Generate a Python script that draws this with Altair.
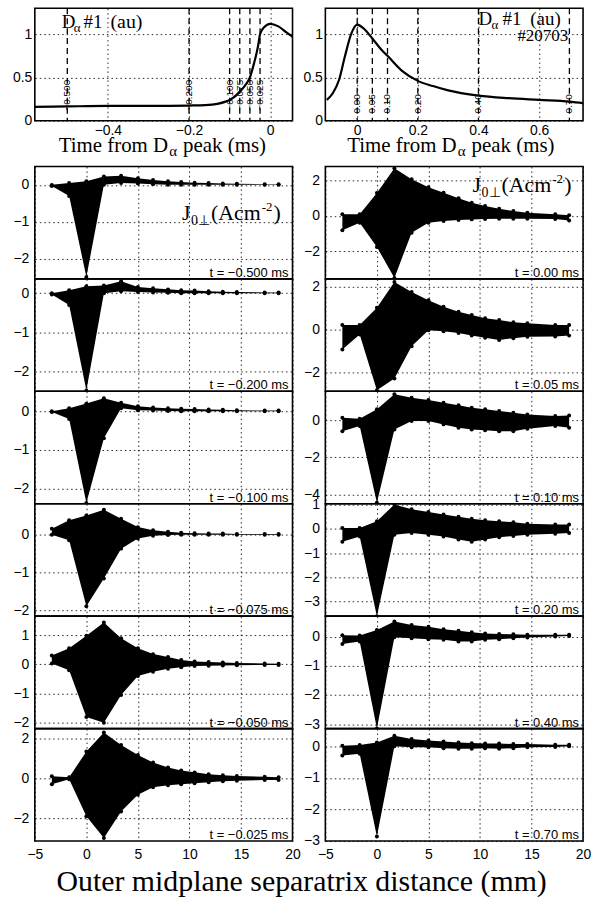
import altair as alt
import pandas as pd

SANS = "Liberation Sans"
SERIF = "Liberation Serif"

# ---------------- D-alpha traces (top row) ----------------
tl_time = [-0.58, -0.5, -0.4, -0.3, -0.2, -0.16, -0.13, -0.11, -0.1, -0.09, -0.08, -0.07,
           -0.06, -0.05, -0.04, -0.03, -0.025, -0.015, 0.0, 0.02, 0.04, 0.055]
tl_da = [0.16, 0.165, 0.17, 0.17, 0.175, 0.18, 0.195, 0.22, 0.24, 0.27, 0.31, 0.36,
         0.42, 0.5, 0.66, 0.86, 1.0, 1.08, 1.12, 1.09, 1.02, 0.97]

tr_time = [-0.1, -0.08, -0.06, -0.04, -0.02, 0.0, 0.02, 0.05, 0.08, 0.1, 0.15, 0.2,
           0.25, 0.3, 0.4, 0.5, 0.6, 0.7, 0.75]
tr_da = [0.24, 0.32, 0.47, 0.75, 1.0, 1.11, 1.07, 0.95, 0.82, 0.75, 0.57, 0.46,
         0.40, 0.35, 0.29, 0.26, 0.24, 0.22, 0.2]

# profile times (ms from D-alpha peak)
before_t = [-0.5, -0.2, -0.1, -0.075, -0.05, -0.025]
before_lab = ["\u22120.500", "\u22120.200", "\u22120.100", "\u22120.075", "\u22120.050", "\u22120.025"]
after_t = [0.0, 0.05, 0.1, 0.2, 0.4, 0.7]
after_lab = ["0.00", "0.05", "0.10", "0.20", "0.40", "0.70"]

# ---------------- J0perp envelopes (bottom panels) ----------------
probe_x = [-3.35, -1.67, 0.0, 1.7, 3.37, 5.0, 6.47, 7.92, 9.2, 10.5, 11.86, 13.24, 14.6, 17.3, 18.65]

up_m500 = [0.0, 0.05, 0.1, 0.23, 0.25, 0.18, 0.13, 0.1, 0.08, 0.06, 0.05, 0.04, 0.03, 0.02, 0.02]
lo_m500 = [-0.03, -0.3, -2.5, 0.0, 0.05, 0.04, 0.02, 0.0, 0.0, 0.0, 0.0, 0.0, 0.0, 0.0, 0.0]

up_m200 = [0.0, 0.08, 0.18, 0.2, 0.31, 0.16, 0.13, 0.1, 0.08, 0.07, 0.05, 0.04, 0.03, 0.02, 0.02]
lo_m200 = [-0.03, -0.3, -2.5, 0.0, 0.05, 0.03, 0.02, 0.01, 0.0, 0.0, 0.0, 0.0, 0.0, 0.0, 0.0]

up_m100 = [0.0, 0.08, 0.2, 0.34, 0.22, 0.13, 0.1, 0.08, 0.07, 0.06, 0.05, 0.04, 0.03, 0.02, 0.02]
lo_m100 = [-0.02, -0.2, -2.38, -0.7, 0.08, 0.03, 0.02, 0.01, 0.0, 0.0, 0.0, 0.0, 0.0, 0.0, 0.0]

up_m075 = [0.16, 0.38, 0.51, 0.66, 0.42, 0.2, 0.12, 0.08, 0.05, 0.04, 0.03, 0.03, 0.02, 0.02, 0.02]
lo_m075 = [0.0, -0.15, -1.9, -1.16, -0.37, -0.1, -0.03, -0.01, 0.0, 0.0, 0.0, 0.0, 0.0, 0.0, 0.0]

up_m050 = [0.3, 0.55, 0.98, 1.43, 0.89, 0.55, 0.35, 0.25, 0.15, 0.1, 0.08, 0.06, 0.05, 0.03, 0.02]
lo_m050 = [0.03, -0.2, -1.8, -2.0, -1.05, -0.4, -0.25, -0.15, -0.1, -0.06, -0.05, -0.04, -0.03, -0.02, -0.02]

up_m025 = [0.1, 0.05, 1.35, 2.3, 1.67, 1.17, 0.8, 0.55, 0.4, 0.3, 0.2, 0.15, 0.12, 0.08, 0.05]
lo_m025 = [-0.3, -0.05, -1.9, -3.0, -1.67, -0.83, -0.45, -0.35, -0.3, -0.25, -0.2, -0.15, -0.12, -0.08, -0.08]

up_p000 = [0.1, 0.1, 1.3, 2.7, 2.07, 1.63, 1.31, 1.0, 0.75, 0.56, 0.41, 0.28, 0.19, 0.1, 0.05]
lo_p000 = [-0.8, -0.38, -1.75, -3.5, -0.94, -0.38, -0.28, -0.22, -0.19, -0.17, -0.15, -0.15, -0.15, -0.17, -0.25]

up_p005 = [0.2, 0.2, 1.0, 2.2, 1.74, 1.35, 1.05, 0.82, 0.66, 0.51, 0.43, 0.32, 0.28, 0.2, 0.2]
lo_p005 = [-0.95, -0.25, -2.85, -2.3, -0.8, -0.05, -0.1, -0.18, -0.3, -0.4, -0.5, -0.42, -0.35, -0.34, -0.3]

up_p010 = [0.13, 0.07, 0.58, 1.39, 1.2, 1.08, 0.94, 0.8, 0.67, 0.58, 0.49, 0.4, 0.3, 0.22, 0.25]
lo_p010 = [-0.6, -0.32, -4.45, -0.5, -0.05, -0.05, -0.23, -0.41, -0.5, -0.54, -0.6, -0.6, -0.47, -0.32, -0.41]

up_p020 = [0.03, 0.03, 0.31, 1.0, 0.8, 0.69, 0.59, 0.49, 0.41, 0.35, 0.31, 0.27, 0.21, 0.17, 0.17]
lo_p020 = [-0.54, -0.32, -3.6, -0.25, -0.18, -0.25, -0.32, -0.44, -0.54, -0.44, -0.35, -0.3, -0.25, -0.21, -0.18]

up_p040 = [0.05, 0.04, 0.23, 0.52, 0.4, 0.34, 0.25, 0.2, 0.15, 0.11, 0.09, 0.08, 0.06, 0.06, 0.06]
lo_p040 = [-0.25, -0.17, -3.15, -0.02, -0.06, -0.09, -0.11, -0.17, -0.17, -0.11, -0.09, -0.06, -0.03, 0.0, 0.02]

up_p070 = [0.02, 0.04, 0.12, 0.33, 0.23, 0.18, 0.15, 0.12, 0.1, 0.09, 0.09, 0.07, 0.07, 0.05, 0.05]
lo_p070 = [-0.29, -0.24, -2.86, 0.0, -0.03, -0.03, -0.06, -0.08, -0.08, -0.06, -0.08, -0.06, -0.03, -0.02, 0.0]

left_panels = [
    (up_m500, lo_m500, [-2.55, 0.5], [-2, -1, 0], "t = \u22120.500 ms"),
    (up_m200, lo_m200, [-2.52, 0.37], [-2, -1, 0], "t = \u22120.200 ms"),
    (up_m100, lo_m100, [-2.4, 0.52], [-2, -1, 0], "t = \u22120.100 ms"),
    (up_m075, lo_m075, [-2.16, 0.82], [-2, -1, 0], "t = \u22120.075 ms"),
    (up_m050, lo_m050, [-2.2, 1.65], [-2, -1, 0, 1], "t = \u22120.050 ms"),
    (up_m025, lo_m025, [-3.15, 2.5], [-2, 0, 2], "t = \u22120.025 ms"),
]
right_panels = [
    (up_p000, lo_p000, [-3.55, 2.8], [-2, 0, 2], "t = 0.00 ms"),
    (up_p005, lo_p005, [-2.9, 2.35], [-2, 0, 2], "t = 0.05 ms"),
    (up_p010, lo_p010, [-4.5, 1.55], [-4, -2, 0], "t = 0.10 ms"),
    (up_p020, lo_p020, [-3.6, 1.03], [-3, -2, -1, 0, 1], "t = 0.20 ms"),
    (up_p040, lo_p040, [-3.15, 0.7], [-3, -2, -1, 0], "t = 0.40 ms"),
    (up_p070, lo_p070, [-3.0, 0.56], [-3, -2, -1, 0], "t = 0.70 ms"),
]

W = 259
H = 113
XTICKS = [-5, 0, 5, 10, 15, 20]


def txt(s, x, y, size, font=SERIF, align="left"):
    return alt.Chart(pd.DataFrame({"s": [s]})).mark_text(
        align=align, baseline="alphabetic", font=font, fontSize=size, color="black"
    ).encode(x=alt.value(x), y=alt.value(y), text="s:N")


def j_label(y0):
    # J_{0\perp}(Acm^{-2})
    return [
        txt("J", 148, y0, 22),
        txt("0\u22a5", 157, y0 + 5, 14),
        txt("(Acm", 177, y0, 22),
        txt("-2", 228, y0 - 9, 13),
        txt(")", 240, y0, 22),
    ]


def profile_panel(up, lo, ydom, yticks, tlabel, bottom, jy=None):
    df = pd.DataFrame({"x": probe_x, "up": up, "lo": lo})
    xs = alt.Scale(domain=[-5, 20], nice=False, zero=False)
    ys = alt.Scale(domain=ydom, nice=False, zero=False)
    xa = alt.Axis(values=XTICKS, labels=bottom, format="~g", title=None, grid=True,
                  labelFlush=False, labelPadding=7)
    ya = alt.Axis(values=yticks, format="~g", title=None, grid=True, labelPadding=6,
                  labelFlush=False)
    base = alt.Chart(df)
    area = base.mark_area(color="black", clip=True, interpolate="linear").encode(
        x=alt.X("x:Q", scale=xs, axis=xa),
        y=alt.Y("up:Q", scale=ys, axis=ya),
        y2="lo:Q",
    )
    dots_up = base.mark_circle(size=16, color="black", opacity=1, clip=True).encode(
        x=alt.X("x:Q", scale=xs, axis=xa), y=alt.Y("up:Q", scale=ys, axis=ya)
    )
    dots_lo = base.mark_circle(size=16, color="black", opacity=1, clip=True).encode(
        x=alt.X("x:Q", scale=xs, axis=xa), y=alt.Y("lo:Q", scale=ys, axis=ya)
    )
    layers = [area, dots_up, dots_lo, txt(tlabel, W - 4, H - 2, 13, font=SANS, align="right")]
    if jy is not None:
        layers += j_label(jy)
    return alt.layer(*layers).properties(width=W, height=H)


def da_panel(tt, da, xdom, xticks, ev_t, ev_lab, lab_dx, notes):
    xs = alt.Scale(domain=xdom, nice=False, zero=False)
    ys = alt.Scale(domain=[0, 1.3], nice=False, zero=False)
    xa = alt.Axis(values=xticks, format="~g", title=None, grid=True, labelFlush=False,
                  labelPadding=3)
    ya = alt.Axis(values=[0, 0.5, 1], format="~g", title=None, grid=True, labelPadding=3)
    trace = alt.Chart(pd.DataFrame({"t": tt, "d": da})).mark_line(
        color="black", strokeWidth=2.2, interpolate="monotone", clip=True
    ).encode(x=alt.X("t:Q", scale=xs, axis=xa), y=alt.Y("d:Q", scale=ys, axis=ya))
    ev = pd.DataFrame({"t": ev_t, "lab": ev_lab})
    rules = alt.Chart(ev).mark_rule(color="black", strokeWidth=1.3, strokeDash=[6, 4]).encode(
        x=alt.X("t:Q", scale=xs, axis=xa)
    )
    labs = alt.Chart(ev).mark_text(
        angle=270, align="left", baseline="middle", font=SANS, fontSize=10,
        color="black", dx=lab_dx
    ).encode(x=alt.X("t:Q", scale=xs, axis=xa), y=alt.datum(0.06), text="lab:N")
    return alt.layer(rules, labs, trace, *notes).properties(width=W, height=H)


def axis_title(a_x):
    # "Time from D_alpha peak (ms)" drawn below the plot
    return [
        txt("Time from D", a_x, 144, 21, align="right"),
        txt("\u03b1", a_x + 1, 149, 15),
        txt("peak (ms)", a_x + 15, 144, 21),
    ]


top_left = da_panel(
    tl_time, tl_da, [-0.58, 0.055], [-0.4, -0.2, 0], before_t, before_lab, 5,
    [txt("D", 27, 20, 19), txt("\u03b1", 39, 24, 13), txt("#1", 49, 20, 19), txt("(au)", 76, 20, 20)]
    + axis_title(134),
)
top_right = da_panel(
    tr_time, tr_da, [-0.105, 0.745], [0, 0.2, 0.4, 0.6], after_t, after_lab, 2,
    [txt("D", 154, 17, 19), txt("\u03b1", 167, 21, 13), txt("#1", 178, 17, 19),
     txt("(au)", 206, 17, 19), txt("#20703", 244, 33, 17, align="right")]
    + axis_title(132),
)

left_col = alt.vconcat(
    *[profile_panel(*p, bottom=(i == 5), jy=(54 if i == 0 else None)) for i, p in enumerate(left_panels)],
    spacing=0, bounds="flush",
)
right_col = alt.vconcat(
    *[profile_panel(*p, bottom=(i == 5), jy=(26 if i == 0 else None)) for i, p in enumerate(right_panels)],
    spacing=0, bounds="flush",
)

top_row = alt.hconcat(top_left, top_right, spacing=8)
bottom_row = alt.hconcat(left_col, right_col, spacing=1)

chart = alt.vconcat(top_row, bottom_row, spacing=5).properties(
    title=alt.TitleParams(
        "Outer midplane separatrix distance (mm)", orient="bottom", anchor="middle",
        font=SERIF, fontSize=30, fontWeight="normal", color="black", offset=4,
    ),
    padding={"left": 11, "top": 4, "right": 0, "bottom": 2},
    background="white",
).configure_axis(
    gridColor="black", gridDash=[1.5, 3], gridOpacity=0.85, gridWidth=1,
    labelFont=SANS, labelFontSize=14, labelColor="black",
    domain=False, ticks=False,
).configure_view(stroke="black", strokeWidth=1.6, strokeOpacity=1)

chart.save("out.html", embed_options={"renderer": "svg", "actions": False})
